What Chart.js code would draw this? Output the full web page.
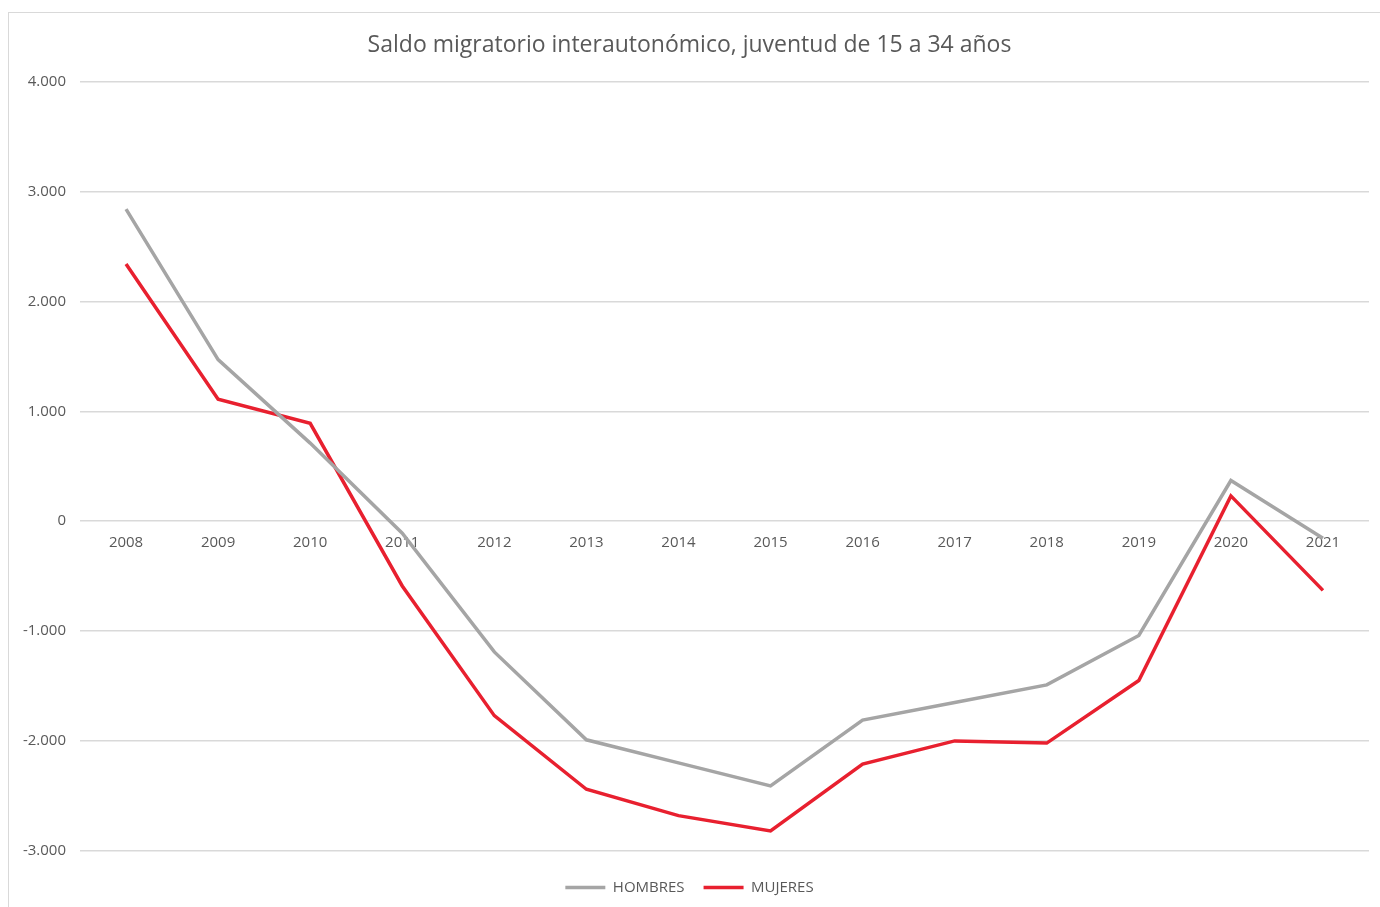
<!DOCTYPE html>
<html lang="es">
<head>
<meta charset="utf-8">
<title>Saldo migratorio interautonómico</title>
<script src="https://cdn.jsdelivr.net/npm/chart.js@4.4.0/dist/chart.umd.min.js"></script>
<style>
  html, body { margin: 0; padding: 0; background: #fff; overflow: hidden; }
  #wrap { position: relative; width: 1380px; height: 907px; }
  #frame {
    position: absolute; left: 8px; top: 12px; width: 1380px; height: 920px;
    border: 1px solid #d9d9d9; pointer-events: none;
  }
</style>
</head>
<body>
<div id="wrap">
  <canvas id="saldoChart" width="1380" height="907"></canvas>
  <div id="frame"></div>
</div>
<script>
// Datos
const years = ['2008', '2009', '2010', '2011', '2012', '2013', '2014',
  '2015', '2016', '2017', '2018', '2019', '2020', '2021'];
const hombres = [2840, 1470, 710, -110, -1190, -1990, -2200,
  -2410, -1810, -1650, -1490, -1040, 370, -155];
const mujeres = [2340, 1110, 890, -590, -1770, -2440, -2680,
  -2820, -2210, -2000, -2020, -1450, 230, -630];
const yTicks = [4000, 3000, 2000, 1000, 0, -1000, -2000, -3000];

const FONT = '"Open Sans", "DejaVu Sans", sans-serif';
const TEXT = '#595959';

const fmt = (v) => {
  const s = Math.abs(v).toString().replace(/\B(?=(\d{3})+(?!\d))/g, '.');
  return (v < 0 ? '-' : '') + s;
};

const ctx = document.getElementById('saldoChart').getContext('2d');

new Chart(ctx, {
  type: 'line',
  data: {
    labels: years,
    datasets: [
      {
        label: 'HOMBRES',
        data: hombres,
        borderColor: '#a5a5a5',
        backgroundColor: '#a5a5a5',
        borderWidth: 3.5,
        pointRadius: 0,
        tension: 0,
      },
      {
        label: 'MUJERES',
        data: mujeres,
        borderColor: '#e8202f',
        backgroundColor: '#e8202f',
        borderWidth: 3.5,
        pointRadius: 0,
        tension: 0,
      },
    ],
  },
  options: {
    responsive: false,
    animation: false,
    layout: {
      padding: { left: 10, right: 11, top: 20, bottom: 2 },
    },
    scales: {
      x: {
        position: { y: 0 },
        offset: true,
        grid: { display: false },
        border: { display: false },
        ticks: {
          color: TEXT,
          font: { family: FONT, size: 15 },
          padding: 5,
          maxRotation: 0,
        },
      },
      y: {
        min: -3000,
        max: 4000,
        afterBuildTicks: (scale) => {
          scale.ticks = yTicks.map((v) => ({ value: v }));
        },
        afterFit: (scale) => {
          scale.width = 70;
        },
        grid: { color: '#d9d9d9', lineWidth: 1.5, drawTicks: false },
        border: { display: false },
        ticks: {
          color: TEXT,
          font: { family: FONT, size: 15 },
          padding: 14,
          callback: (v) => fmt(v),
        },
      },
    },
    plugins: {
      title: {
        display: true,
        text: 'Saldo migratorio interautonómico, juventud de 15 a 34 años',
        color: TEXT,
        font: { family: FONT, size: 23, weight: 'normal' },
        padding: { top: 12, bottom: 22 },
      },
      legend: {
        position: 'bottom',
        // empty title only adds some space above the legend items
        title: {
          display: true,
          text: ' ',
          font: { size: 1 },
          padding: { top: 0, bottom: 9 },
        },
        labels: {
          color: TEXT,
          font: { family: FONT, size: 15 },
          usePointStyle: true,
          pointStyle: 'line',
          pointStyleWidth: 40,
          boxWidth: 40,
          padding: 19,
        },
      },
      tooltip: { enabled: false },
    },
  },
});
</script>
</body>
</html>
